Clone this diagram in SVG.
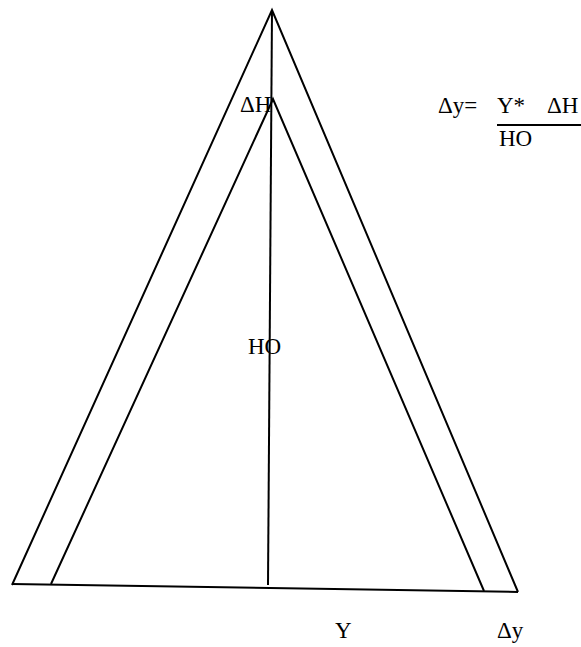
<svg xmlns="http://www.w3.org/2000/svg" width="581" height="647" viewBox="0 0 581 647">
<style>
.ln{fill:none;stroke:#000;stroke-width:2;stroke-linejoin:miter}
.t{font-family:"Liberation Serif","DejaVu Serif",serif;font-size:23px;fill:#000}
</style>
<rect width="581" height="647" fill="#fff"/>
<g id="connectors">
<polyline id="outer" class="ln" points="12,585 272,10 518,592"/>
<polyline id="inner" class="ln" points="51,584 273,99 484,591"/>
<line id="height" class="ln" x1="272" y1="10" x2="268" y2="585"/>
<line id="base" class="ln" x1="12" y1="584" x2="518" y2="592"/>
<line id="frac" class="ln" x1="497" y1="125" x2="581" y2="125" stroke-width="1.5"/>
</g>
<g id="label-dH"><text class="t" x="240" y="112">ΔH</text></g>
<g id="label-H0"><text class="t" x="248" y="354">HO</text></g>
<g id="label-Y"><text class="t" x="335" y="638">Y</text></g>
<g id="label-dy"><text class="t" x="497" y="638">Δy</text></g>
<g id="formula">
<text class="t" x="438" y="113">Δy=</text>
<text class="t" x="497" y="113">Y*</text>
<text class="t" x="547" y="113">ΔH</text>
<text class="t" x="499" y="146">HO</text>
</g>
</svg>
